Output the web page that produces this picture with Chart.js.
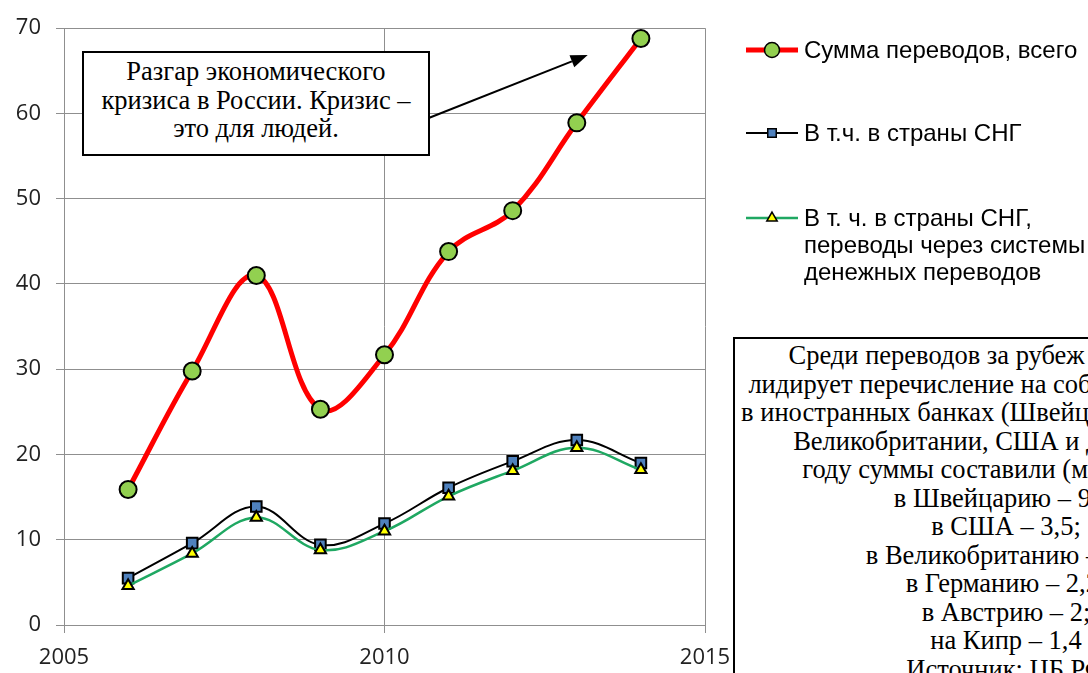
<!DOCTYPE html>
<html>
<head>
<meta charset="utf-8">
<script src="https://cdn.jsdelivr.net/npm/chart.js@4.4.1/dist/chart.umd.min.js"></script>
<style>
  html, body { margin: 0; padding: 0; background: #fff; overflow: hidden; }
  #wrap { position: relative; width: 1088px; height: 673px; overflow: hidden; }
  #chart { position: absolute; left: 0; top: 0; }
  .note {
    position: absolute; box-sizing: border-box; border: 2px solid #000; background: #fff;
    font-family: "Liberation Serif", "Times New Roman", serif; font-size: 26.5px; line-height: 28.5px;
    text-align: center; color: #000; white-space: nowrap;
  }
  #crisis { left: 82px; top: 51px; width: 348px; height: 105px; padding-top: 4px; }
  #source { left: 733px; top: 337px; width: 546px; height: 400px; padding-top: 2px; }
</style>
</head>
<body>
<div id="wrap">
  <canvas id="chart" width="1088" height="673"></canvas>
  <div class="note" id="crisis">Разгар экономического<br>кризиса в России. Кризис –<br>это для людей.</div>
  <div class="note" id="source">
    Среди переводов за рубеж <i>россиянами</i><br>
    лидирует перечисление на собственные счета<br>
    в иностранных банках (Швейцарии, Германии,<br>
    Великобритании, США и др.). В 2014<br>
    году суммы составили (млрд долл.):<br>
    в Швейцарию – 9,7;<br>
    в США – 3,5;<br>
    в Великобританию – 3,1;<br>
    в Германию – 2,2;<br>
    в Австрию – 2;<br>
    на Кипр – 1,4<br>
    Источник: ЦБ РФ
  </div>
</div>
<script>
// values, billions USD
const years = [2006, 2007, 2008, 2009, 2010, 2011, 2012, 2013, 2014];
const totalSum = [15.9, 29.8, 41.0, 25.3, 31.7, 43.8, 48.6, 58.9, 68.8];
const cisSum = [5.5, 9.6, 13.9, 9.4, 11.9, 16.1, 19.2, 21.7, 19.0];
const cisSystems = [4.6, 8.4, 12.6, 8.8, 11.0, 15.1, 18.1, 20.8, 18.2];

const xTicks = [2005, 2010, 2015];
const yTicks = [0, 10, 20, 30, 40, 50, 60, 70];

const labelTotal = ["Сумма переводов, всего"];
const labelCis = ["В т.ч. в страны СНГ"];
const labelSystems = ["В т. ч. в страны СНГ,", "переводы через системы", "денежных переводов"];

// arrow from the note box towards the top of the red line (data coords)
const arrowFrom = { x: 2010.7, y: 59.5 };
const arrowTo = { x: 2013.17, y: 66.85 };

const GRID = "#8f8f8f";

const toPoints = (vals) => vals.map((v, i) => ({ x: years[i], y: v }));

const legendPlugin = {
  id: "sideLegend",
  afterDraw(chart) {
    const ctx = chart.ctx;
    const rows = [
      { ds: 0, y: 50, lines: labelTotal, r: 7.5 },
      { ds: 1, y: 133, lines: labelCis, r: 6 },
      { ds: 2, y: 218, lines: labelSystems, r: 6 },
    ];
    ctx.save();
    rows.forEach((row) => {
      const ds = chart.data.datasets[row.ds];
      ctx.strokeStyle = ds.borderColor;
      ctx.lineWidth = ds.borderWidth;
      ctx.beginPath();
      ctx.moveTo(746, row.y);
      ctx.lineTo(798, row.y);
      ctx.stroke();
      ctx.fillStyle = ds.pointBackgroundColor;
      ctx.strokeStyle = ds.pointBorderColor;
      ctx.lineWidth = 1.5;
      Chart.helpers.drawPoint(ctx, { pointStyle: ds.pointStyle, radius: row.r, rotation: 0, borderWidth: 1.5 }, 772, row.y);
      ctx.fillStyle = "#000";
      ctx.font = '24px "Liberation Sans", Arial, sans-serif';
      ctx.textBaseline = "middle";
      ctx.textAlign = "left";
      row.lines.forEach((t, i) => ctx.fillText(t, 804, row.y + 1 + i * 27));
    });
    ctx.restore();
  },
};

const arrowPlugin = {
  id: "arrow",
  afterDraw(chart) {
    const { ctx, scales } = chart;
    const x0 = scales.x.getPixelForValue(arrowFrom.x), y0 = scales.y.getPixelForValue(arrowFrom.y);
    const x1 = scales.x.getPixelForValue(arrowTo.x), y1 = scales.y.getPixelForValue(arrowTo.y);
    const a = Math.atan2(y1 - y0, x1 - x0);
    const len = 17, half = 6.5;
    const bx = x1 - len * Math.cos(a), by = y1 - len * Math.sin(a);
    ctx.save();
    ctx.strokeStyle = "#000";
    ctx.fillStyle = "#000";
    ctx.lineWidth = 2;
    ctx.beginPath();
    ctx.moveTo(x0, y0);
    ctx.lineTo(bx, by);
    ctx.stroke();
    ctx.beginPath();
    ctx.moveTo(x1, y1);
    ctx.lineTo(bx + half * Math.sin(a), by - half * Math.cos(a));
    ctx.lineTo(bx - half * Math.sin(a), by + half * Math.cos(a));
    ctx.closePath();
    ctx.fill();
    ctx.restore();
  },
};

new Chart(document.getElementById("chart"), {
  type: "line",
  data: {
    datasets: [
      {
        label: labelTotal.join(" "),
        data: toPoints(totalSum),
        borderColor: "#ff0000",
        borderWidth: 5,
        pointStyle: "circle",
        pointRadius: 8.5,
        pointBackgroundColor: "#92d050",
        pointBorderColor: "#000",
        pointBorderWidth: 2,
        tension: 0.38,
        order: 0,
      },
      {
        label: labelCis.join(" "),
        data: toPoints(cisSum),
        borderColor: "#000000",
        borderWidth: 2,
        pointStyle: "rect",
        pointRadius: 7.5,
        pointBackgroundColor: "#4f81bd",
        pointBorderColor: "#000",
        pointBorderWidth: 2,
        tension: 0.38,
        order: 2,
      },
      {
        label: labelSystems.join(" "),
        data: toPoints(cisSystems),
        borderColor: "#1fa862",
        borderWidth: 2.5,
        pointStyle: "triangle",
        pointRadius: 6.5,
        pointBackgroundColor: "#ffff00",
        pointBorderColor: "#000",
        pointBorderWidth: 2,
        tension: 0.38,
        order: 1,
      },
    ],
  },
  options: {
    responsive: false,
    animation: false,
    layout: { padding: { top: 25, right: 383, left: 0, bottom: 0 } },
    plugins: { legend: { display: false }, tooltip: { enabled: false } },
    scales: {
      x: {
        type: "linear",
        min: 2005,
        max: 2015,
        afterBuildTicks: (s) => { s.ticks = xTicks.map((v) => ({ value: v })); },
        afterFit: (s) => { s.height = 48; },
        grid: { color: GRID, lineWidth: 1, tickLength: 8 },
        border: { color: GRID },
        ticks: {
          padding: 12,
          color: "#222",
          font: { family: "'Open Sans', sans-serif", size: 22 },
          callback: (v) => String(v),
        },
      },
      y: {
        min: 0,
        max: 70,
        afterBuildTicks: (s) => { s.ticks = yTicks.map((v) => ({ value: v })); },
        afterFit: (s) => { s.width = 64; },
        grid: { color: GRID, lineWidth: 1, tickLength: 8 },
        border: { color: GRID },
        ticks: {
          padding: 15,
          color: "#222",
          font: { family: "'Open Sans', sans-serif", size: 22 },
        },
      },
    },
  },
  plugins: [legendPlugin, arrowPlugin],
});
</script>
</body>
</html>
